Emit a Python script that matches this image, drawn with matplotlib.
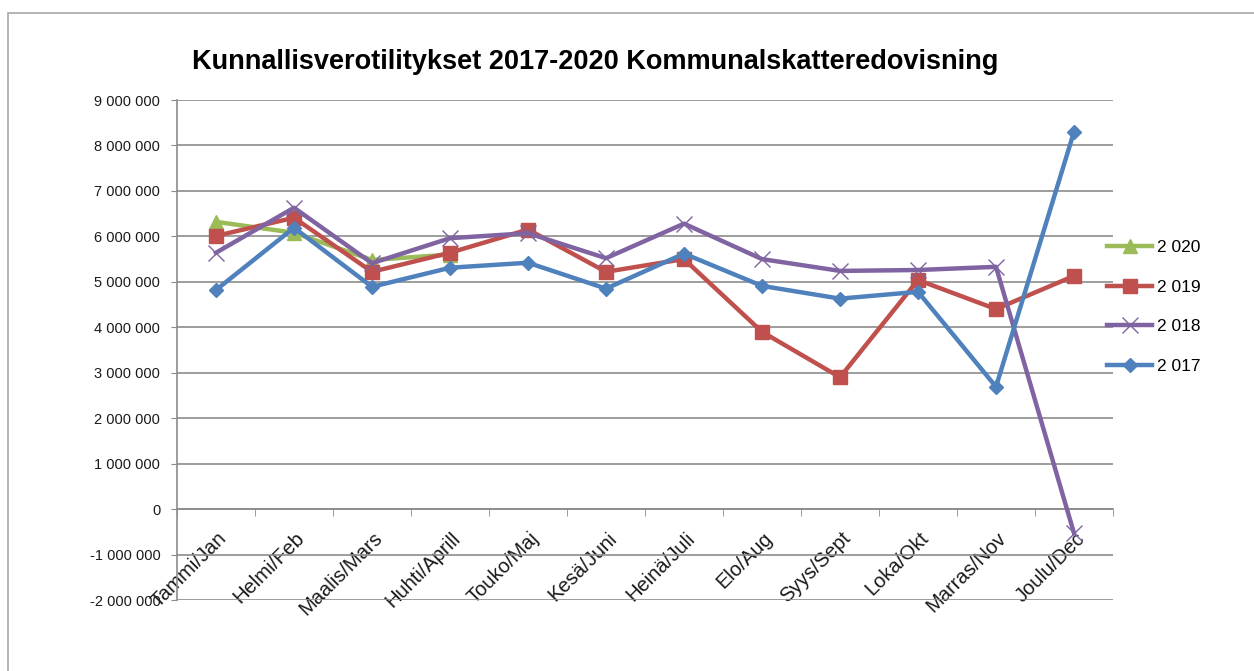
import matplotlib
matplotlib.use('Agg')
import matplotlib.pyplot as plt
import matplotlib.transforms as mtransforms
from matplotlib.patches import Rectangle

plt.rcParams['font.family'] = ['Liberation Sans', 'DejaVu Sans']

months = ['Tammi/Jan', 'Helmi/Feb', 'Maalis/Mars', 'Huhti/Aprill', 'Touko/Maj',
          'Kesä/Juni', 'Heinä/Juli', 'Elo/Aug', 'Syys/Sept', 'Loka/Okt',
          'Marras/Nov', 'Joulu/Dec']

y2020 = [6320000, 6080000, 5480000, 5600000]
y2019 = [6010000, 6410000, 5220000, 5640000, 6150000, 5220000,
         5500000, 3900000, 2900000, 5040000, 4400000, 5130000]
y2018 = [5640000, 6630000, 5410000, 5960000, 6070000, 5520000,
         6280000, 5500000, 5240000, 5260000, 5330000, -530000]
y2017 = [4820000, 6190000, 4890000, 5310000, 5420000, 4850000,
         5620000, 4910000, 4630000, 4780000, 2690000, 8300000]

series = [
    ('2 020', y2020, '#9BBB59', '^', 10, 1),
    ('2 019', y2019, '#C0504D', 's', 10, 2),
    ('2 018', y2018, '#8064A2', 'x', 11, 3),
    ('2 017', y2017, '#4F81BD', 'D', 7, 4),
]

grid_col = '#8c8c8c'
txt_col = '#1a1a1a'

fig = plt.figure(figsize=(12.54, 6.71), dpi=100)
fig.patches.append(Rectangle((8 / 1254, -0.1), 1.2, (671 - 13) / 671 + 0.1,
                             transform=fig.transFigure, fill=False,
                             edgecolor='#a8a8a8', linewidth=1.2))

ax = fig.add_axes([177 / 1254, 1 - 600 / 671, (1113 - 177) / 1254, 500 / 671])

x = list(range(len(months)))
for name, vals, col, mk, ms, z in series:
    if mk == 'x':
        ax.plot(x[:len(vals)], vals, color=col, linewidth=3.2, marker=mk,
                markersize=ms, markeredgewidth=1.0, label=name, zorder=z,
                clip_on=False)
    else:
        ax.plot(x[:len(vals)], vals, color=col, linewidth=3.2, marker=mk,
                markersize=ms, label=name, zorder=z, clip_on=False)

ax.set_xlim(-0.5, 11.5)
ax.set_ylim(-2000000, 9000000)
ax.set_yticks(range(-2000000, 9000001, 1000000))
ax.set_yticklabels([f'{v:,}'.replace(',', ' ') for v in range(-2000000, 9000001, 1000000)])
ax.yaxis.grid(True, color=grid_col, linewidth=1.2)
ax.set_axisbelow(True)

for s in ['top', 'right']:
    ax.spines[s].set_visible(False)
ax.spines['bottom'].set_position(('data', 0))
ax.spines['bottom'].set_color(grid_col)
ax.spines['bottom'].set_linewidth(1.2)
ax.spines['left'].set_color(grid_col)
ax.spines['left'].set_linewidth(1.2)

ax.tick_params(axis='y', length=4, color=grid_col, labelsize=10.5,
               labelcolor=txt_col, pad=8)
ax.set_xticks(x)
ax.set_xticklabels(months, rotation=45, ha='right', rotation_mode='anchor',
                   fontsize=14.5, color=txt_col)
ax.set_xticks([i + 0.5 for i in range(-1, 12)], minor=True)
ax.tick_params(axis='x', which='major', length=0, pad=14)
ax.tick_params(axis='x', which='minor', length=5, color=grid_col)

offset = mtransforms.ScaledTranslation(1 / 100, 0, fig.dpi_scale_trans)
for lab in ax.get_xticklabels():
    lab.set_transform(lab.get_transform() + offset)

fig.text(595 / 1254, 1 - 62 / 671,
         'Kunnallisverotilitykset 2017-2020 Kommunalskatteredovisning',
         ha='center', va='center', fontsize=19.5, fontweight='bold', color='black')

ax.legend(loc='center left', bbox_to_anchor=(1107 / 1254, 1 - 307 / 671),
          bbox_transform=fig.transFigure, frameon=False, fontsize=12.5,
          handlelength=2.6, handletextpad=0.3, labelspacing=1.4,
          borderaxespad=0, borderpad=0)

fig.savefig('out.png', dpi=100)
